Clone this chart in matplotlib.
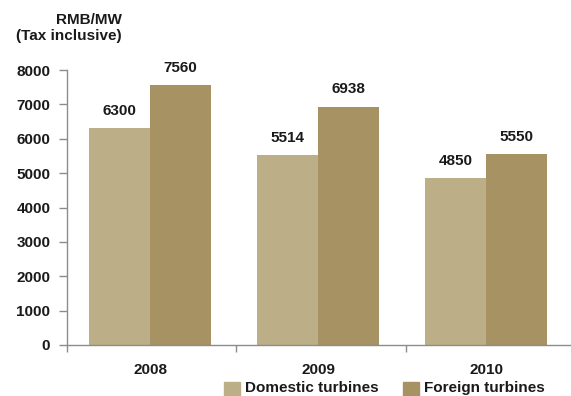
import matplotlib
matplotlib.use("Agg")
import matplotlib.pyplot as plt
from matplotlib.patches import Rectangle
import numpy as np

years = ["2008", "2009", "2010"]
domestic = [6300, 5514, 4850]
foreign = [7560, 6938, 5550]
series_names = ["Domestic turbines", "Foreign turbines"]
y_ticks = [0, 1000, 2000, 3000, 4000, 5000, 6000, 7000, 8000]

c_dom = "#BCAE87"
c_for = "#A69262"
axis_gray = "#8C8C8C"
txt = "#1A1A1A"
fs = 11

plt.rcParams["font.family"] = ["Liberation Sans", "DejaVu Sans"]
plt.rcParams["font.weight"] = "bold"

W, H = 571, 396
fig = plt.figure(figsize=(W / 100, H / 100), dpi=100)
ax = fig.add_axes([67 / W, 51 / H, (W - 67) / W, 275 / H])

x = np.arange(len(years))
bw = 0.363
ax.bar(x - bw / 2, domestic, bw, color=c_dom, label=series_names[0], zorder=2)
ax.bar(x + bw / 2, foreign, bw, color=c_for, label=series_names[1], zorder=2)

for xi, d, f in zip(x, domestic, foreign):
    ax.text(xi - bw / 2, d + 300, f"{d}", ha="center", va="bottom",
            fontsize=fs, fontweight="bold", color=txt)
    ax.text(xi + bw / 2, f + 300, f"{f}", ha="center", va="bottom",
            fontsize=fs, fontweight="bold", color=txt)

step = 168.0
x0 = -(150 - 67) / step
ax.set_xlim(x0, x0 + (W - 67) / step)
ax.set_ylim(0, 8000)
ax.set_yticks(y_ticks)
ax.set_yticklabels([str(v) for v in y_ticks], fontsize=fs, fontweight="bold", color=txt)
ax.set_xticks([x0, 0.512, 1.524])
ax.set_xticklabels([])
ax.set_xticks(x, minor=True)
ax.set_xticklabels(years, minor=True, fontsize=fs, fontweight="bold", color=txt)
ax.tick_params(axis="x", which="major", length=5, color=axis_gray, width=1, direction="out")
ax.tick_params(axis="x", which="minor", length=0, pad=13)
ax.tick_params(axis="y", length=6, color=axis_gray, width=1, pad=6)

for s in ["top", "right"]:
    ax.spines[s].set_visible(False)
ax.spines["left"].set_color(axis_gray)
ax.spines["bottom"].set_color(axis_gray)
ax.spines["left"].set_linewidth(1)
ax.spines["bottom"].set_linewidth(1)

fig.text(122 / W, 1 - 13 / H, "RMB/MW\n(Tax inclusive)", ha="right", va="top",
         fontsize=fs, fontweight="bold", color=txt, linespacing=1.15)

# legend
for px, col, name in [(224, c_dom, series_names[0]), (403, c_for, series_names[1])]:
    fig.patches.append(Rectangle((px / W, 0 / H), 16 / W, 14 / H,
                                 transform=fig.transFigure, color=col))
    fig.text((px + 21) / W, 4 / H, name, ha="left", va="baseline",
             fontsize=fs, fontweight="bold", color=txt)

fig.savefig("out.png", dpi=100)
